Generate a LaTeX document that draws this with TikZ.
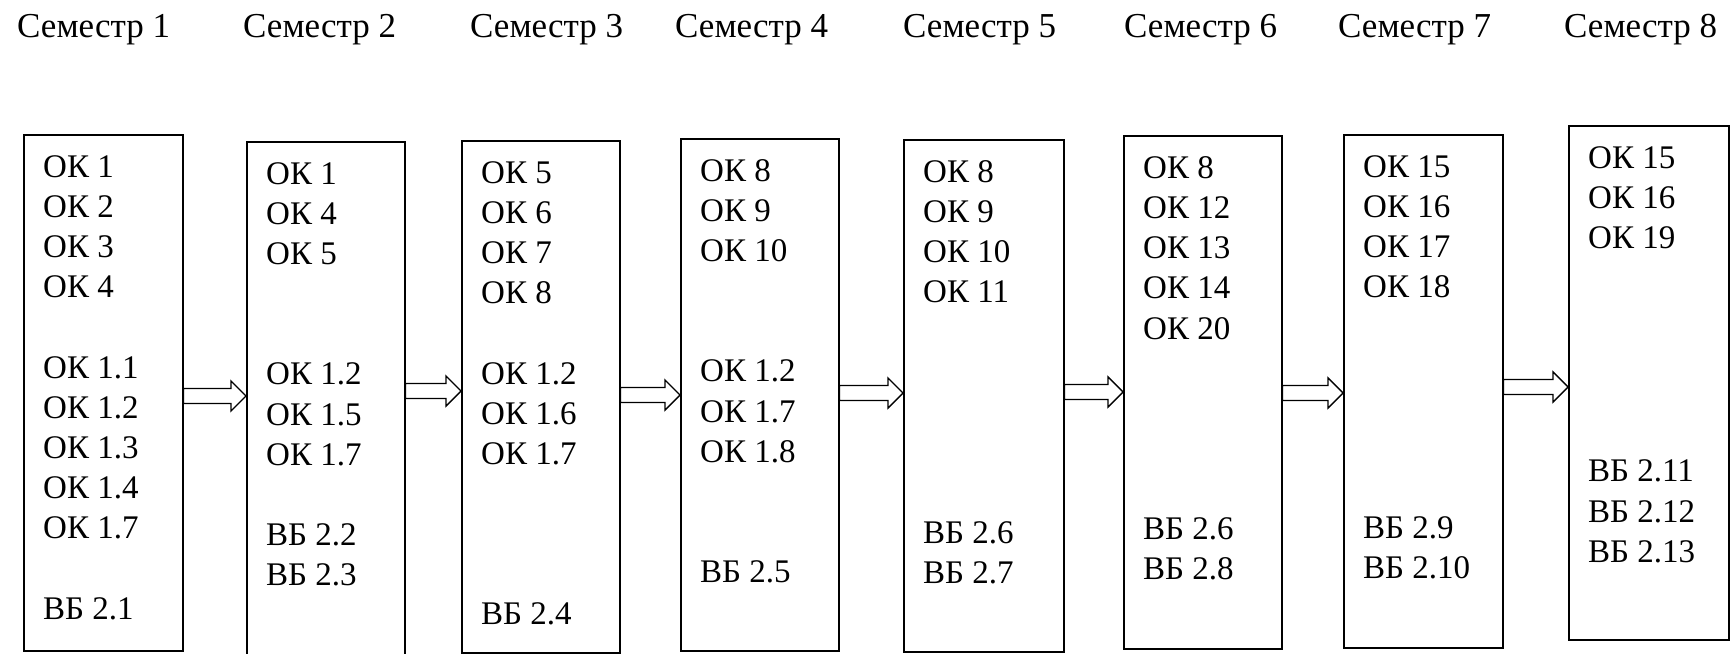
\documentclass[tikz,border=0pt]{standalone}
\usepackage{fontspec}
\setmainfont{Liberation Serif}
\usetikzlibrary{positioning,calc}

\tikzset{
  sembox/.style={draw, line width=1.5pt, inner sep=0pt, anchor=north west},
  semtext/.style={inner sep=0pt, align=left, font=\fontsize{33}{40.2}\selectfont},
  semhead/.style={inner sep=0pt, anchor=base west, font=\fontsize{35}{40}\selectfont},
  fatarrow/.style={line width=1.4pt, line join=miter, to path={
    let \p1=(\tikztostart), \p2=(\tikztotarget) in
    (\x1,\y1+7.5pt) -- (\x2-15pt,\y1+7.5pt) -- (\x2-15pt,\y1+15pt) -- (\x2,\y1)
    -- (\x2-15pt,\y1-15pt) -- (\x2-15pt,\y1-7.5pt) -- (\x1,\y1-7.5pt) -- cycle}}
}

\begin{document}
\begin{tikzpicture}[x=1pt, y=-1pt]
  % 画布大小
  \useasboundingbox (0,0) rectangle (1734,653);
  \clip (0,0) rectangle (1734,653);
  % 学期标题
  \foreach \i/\hx in {1/17, 2/243, 3/470, 4/675, 5/903, 6/1124, 7/1338, 8/1564}
    \node[semhead] (h\i) at (\hx,37) {Семестр \i};
  % 学期方框
  \foreach \i/\l/\t/\w/\h in {1/23/134/159/516, 2/246/141/158/530, 3/461/140/158/512,
      4/680/138/158/512, 5/903/139/160/512, 6/1123/135/158/513,
      7/1343/134/159/513, 8/1568/125/160/514}
    \node[sembox, minimum width=\w pt, minimum height=\h pt] (s\i) at (\l,\t) {};
  % 方框内的课程
  \node[semtext, below right=15pt and 20pt of s1.north west] (t1)
    {\strut ОК 1\\ ОК 2\\ ОК 3\\ ОК 4\\[40pt] ОК 1.1\\ ОК 1.2\\ ОК 1.3\\ ОК 1.4\\ ОК 1.7\\[40pt] ВБ 2.1};
  \node[semtext, below right=15pt and 20pt of s2.north west] (t2)
    {\strut ОК 1\\ ОК 4\\ ОК 5\\[80pt] ОК 1.2\\ ОК 1.5\\ ОК 1.7\\[40pt] ВБ 2.2\\ ВБ 2.3};
  \node[semtext, below right=15pt and 20pt of s3.north west] (t3)
    {\strut ОК 5\\ ОК 6\\ ОК 7\\ ОК 8\\[40pt] ОК 1.2\\ ОК 1.6\\ ОК 1.7\\[120pt] ВБ 2.4};
  \node[semtext, below right=15pt and 20pt of s4.north west] (t4)
    {\strut ОК 8\\ ОК 9\\ ОК 10\\[80pt] ОК 1.2\\ ОК 1.7\\ ОК 1.8\\[80pt] ВБ 2.5};
  \node[semtext, below right=15pt and 20pt of s5.north west] (t5)
    {\strut ОК 8\\ ОК 9\\ ОК 10\\ ОК 11\\[200pt] ВБ 2.6\\ ВБ 2.7};
  \node[semtext, below right=15pt and 20pt of s6.north west] (t6)
    {\strut ОК 8\\ ОК 12\\ ОК 13\\ ОК 14\\ ОК 20\\[160pt] ВБ 2.6\\ ВБ 2.8};
  \node[semtext, below right=15pt and 20pt of s7.north west] (t7)
    {\strut ОК 15\\ ОК 16\\ ОК 17\\ ОК 18\\[200pt] ВБ 2.9\\ ВБ 2.10};
  \node[semtext, below right=15pt and 20pt of s8.north west] (t8)
    {\strut ОК 15\\ ОК 16\\ ОК 19\\[193pt] ВБ 2.11\\ ВБ 2.12\\ ВБ 2.13};
  % 方框之间的空心箭头
  \foreach \a/\b/\ay in {1/2/396, 2/3/391, 3/4/395, 4/5/393, 5/6/392, 6/7/393, 7/8/387}
    \draw[fatarrow] (s\a.east |- 0,\ay) to (s\b.west |- 0,\ay);
\end{tikzpicture}
\end{document}
